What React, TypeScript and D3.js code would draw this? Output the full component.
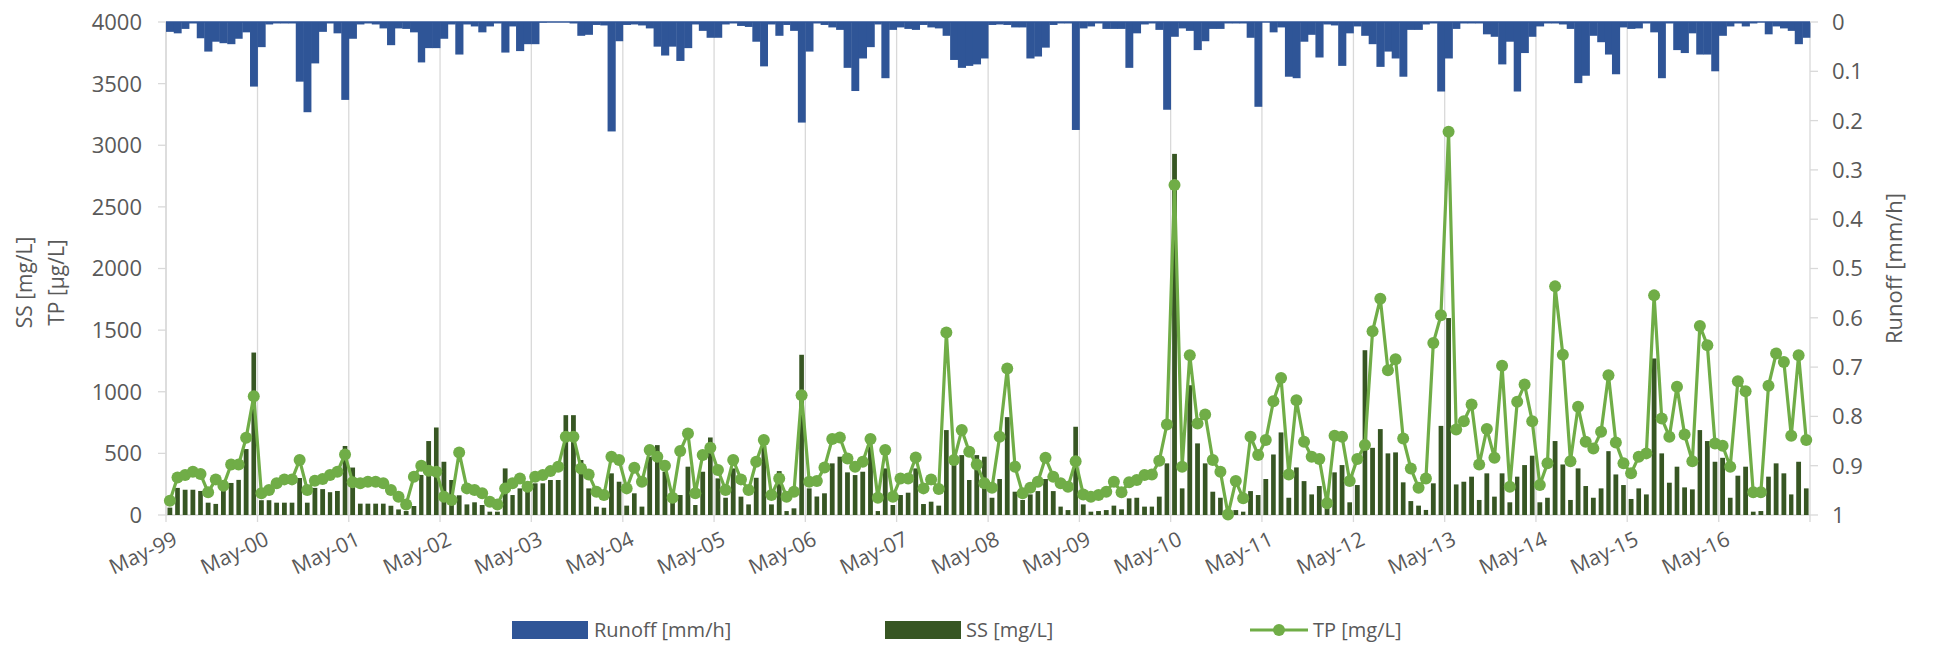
import React from "react";
import * as d3 from "d3";

// monthly samples, May-1999 .. Apr-2017
const startMonth = new Date(1999, 4, 1);
const endMonth = new Date(2017, 4, 1);
const months = d3.timeMonth.range(startMonth, endMonth);

// Runoff [mm/h], one value per month
const runoff = [
  0.02, 0.023, 0.014, 0.003, 0.033, 0.06, 0.04, 0.043, 0.045, 0.034, 0.021, 0.131,
  0.051, 0.005, 0.003, 0.003, 0.003, 0.121, 0.183, 0.084, 0.02, 0.003, 0.023, 0.158,
  0.034, 0.005, 0.003, 0.005, 0.013, 0.047, 0.013, 0.014, 0.021, 0.082, 0.053, 0.053,
  0.034, 0.005, 0.066, 0.005, 0.009, 0.021, 0.009, 0.003, 0.062, 0.009, 0.059, 0.045,
  0.045, 0.001, 0, 0, 0, 0.003, 0.028, 0.026, 0.006, 0.007, 0.222, 0.039,
  0.006, 0.005, 0.007, 0.013, 0.05, 0.068, 0.05, 0.079, 0.053, 0.005, 0.018, 0.032,
  0.032, 0.005, 0.003, 0.008, 0.01, 0.04, 0.09, 0.005, 0.028, 0.006, 0.018, 0.204,
  0.06, 0.003, 0.006, 0.011, 0.016, 0.093, 0.14, 0.074, 0.051, 0.005, 0.114, 0.016,
  0.011, 0.014, 0.016, 0.006, 0.011, 0.013, 0.028, 0.077, 0.093, 0.089, 0.086, 0.074,
  0.006, 0.005, 0.006, 0.011, 0.011, 0.074, 0.07, 0.052, 0.006, 0.003, 0.003, 0.219,
  0.013, 0.009, 0.003, 0.014, 0.014, 0.014, 0.093, 0.023, 0.005, 0.003, 0.016, 0.178,
  0.03, 0.013, 0.018, 0.057, 0.039, 0.014, 0.014, 0.003, 0.003, 0.003, 0.032, 0.172,
  0, 0.021, 0.011, 0.111, 0.114, 0.04, 0.026, 0.072, 0.005, 0.007, 0.089, 0.023,
  0.009, 0.028, 0.045, 0.091, 0.06, 0.074, 0.111, 0.016, 0.016, 0.005, 0.003, 0.141,
  0.074, 0.014, 0.003, 0.003, 0.003, 0.025, 0.03, 0.086, 0.04, 0.141, 0.063, 0.03,
  0.009, 0.003, 0.003, 0.005, 0.014, 0.124, 0.109, 0.028, 0.041, 0.066, 0.106, 0.011,
  0.014, 0.013, 0.003, 0.021, 0.114, 0.003, 0.057, 0.063, 0.023, 0.066, 0.066, 0.1,
  0.028, 0.009, 0.003, 0.009, 0.003, 0, 0.025, 0.009, 0.013, 0.018, 0.045, 0.032,
];

// SS [mg/L]
const ss = [
  60, 220, 205, 205, 195, 100, 90, 240, 260, 285, 535, 1318,
  120, 120, 100, 100, 100, 300, 100, 220, 210, 185, 195, 560,
  385, 92, 92, 92, 92, 75, 45, 32, 73, 325, 600, 710,
  432, 284, 160, 86, 103, 81, 27, 27, 378, 162, 216, 189,
  257, 257, 284, 284, 810, 810, 446, 216, 68, 59, 338, 270,
  76, 176, 68, 473, 567, 351, 108, 162, 392, 81, 351, 629,
  297, 140, 378, 149, 86, 302, 560, 86, 356, 32, 54, 1300,
  216, 150, 176, 419, 473, 346, 324, 351, 560, 32, 378, 81,
  162, 181, 378, 89, 108, 76, 689, 473, 486, 284, 486, 473,
  140, 292, 794, 189, 122, 167, 194, 292, 194, 68, 40, 716,
  86, 27, 32, 40, 76, 46, 135, 140, 68, 68, 149, 419,
  2930, 216, 1053, 581, 419, 189, 140, 27, 40, 27, 194, 162,
  292, 491, 670, 140, 386, 275, 167, 235, 140, 346, 405, 103,
  243, 1337, 545, 697, 500, 508, 265, 113, 76, 41, 257, 723,
  1598, 248, 270, 311, 122, 338, 149, 338, 103, 311, 405, 481,
  103, 140, 600, 410, 122, 378, 235, 140, 216, 518, 329, 243,
  130, 216, 167, 1270, 500, 262, 392, 224, 208, 689, 600, 432,
  464, 140, 319, 392, 27, 32, 311, 419, 338, 167, 432, 216,
];

// TP
const tp = [
  116, 305, 324, 351, 332, 184, 289, 238, 410, 410, 626, 964,
  176, 203, 257, 289, 289, 446, 203, 278, 292, 324, 351, 491,
  265, 257, 270, 270, 257, 203, 149, 86, 311, 400, 359, 351,
  149, 122, 508, 216, 203, 176, 108, 86, 216, 257, 297, 230,
  311, 324, 356, 392, 635, 635, 378, 329, 189, 162, 473, 446,
  216, 384, 270, 527, 473, 400, 140, 519, 662, 176, 486, 545,
  365, 203, 446, 289, 203, 432, 608, 162, 297, 149, 189, 972,
  270, 275, 386, 616, 629, 459, 392, 432, 616, 140, 527, 149,
  297, 297, 467, 216, 289, 211, 1480, 446, 689, 513, 410, 257,
  221, 635, 1188, 392, 176, 221, 270, 464, 311, 257, 230, 437,
  167, 149, 162, 189, 270, 184, 265, 284, 324, 329, 440, 734,
  2678, 392, 1296, 742, 815, 446, 351, 5, 275, 135, 635, 486,
  608, 923, 1112, 329, 931, 594, 473, 454, 95, 643, 635, 275,
  454, 567, 1490, 1755, 1175, 1264, 621, 378, 221, 297, 1396, 1620,
  3110, 694, 761, 896, 410, 697, 464, 1210, 230, 918, 1058, 761,
  243, 419, 1855, 1301, 437, 878, 594, 540, 675, 1134, 589, 419,
  338, 473, 500, 1782, 783, 635, 1040, 653, 437, 1534, 1377, 581,
  562, 392, 1085, 1004, 184, 184, 1048, 1310, 1242, 643, 1296, 608,
];

const yearTicks = d3.range(1999, 2017).map((y) => new Date(y, 4, 1));
const leftTicks = [0, 500, 1000, 1500, 2000, 2500, 3000, 3500, 4000];
const rightTicks = [0, 0.1, 0.2, 0.3, 0.4, 0.5, 0.6, 0.7, 0.8, 0.9, 1];

const W = 1933;
const H = 648;
const left = 166;
const right = 1810;
const top = 22;
const bottom = 515;

const BLUE = "#2F5597";
const DARK = "#375623";
const LIGHT = "#70AD47";
const GRID = "#D9D9D9";
const TEXT = "#595959";
const FONT = "'Open Sans', 'Noto Sans', sans-serif";

const App = () => {
  const x = d3.scaleTime().domain([startMonth, endMonth]).range([left, right]);
  const ySS = d3.scaleLinear().domain([0, 4000]).range([bottom, top]);
  const yRun = d3.scaleLinear().domain([0, 1]).range([top, bottom]);

  const bandOf = (m) => {
    const x0 = x(m);
    const x1 = x(d3.timeMonth.offset(m, 1));
    return { x0, x1, cx: (x0 + x1) / 2, w: x1 - x0 };
  };

  const tpPoints = months.map((m, i) => [bandOf(m).cx, ySS(tp[i])]);
  const line = d3.line();
  const fmt = d3.timeFormat("%b-%y");

  return (
    <svg
      width={W}
      height={H}
      style={{ position: "absolute", left: 0, top: 0, background: "#fff" }}
    >
      {/* vertical gridlines */}
      {yearTicks.map((d, i) => (
        <line key={"g" + i} x1={x(d)} x2={x(d)} y1={top} y2={bottom + 7} stroke={GRID} strokeWidth={1.3} />
      ))}
      {/* axes lines */}
      <line x1={left} x2={left} y1={top} y2={bottom} stroke={GRID} strokeWidth={1.3} />
      <line x1={right} x2={right} y1={top} y2={bottom + 7} stroke={GRID} strokeWidth={1.3} />
      <line x1={left} x2={right} y1={bottom} y2={bottom} stroke={GRID} strokeWidth={1.3} />

      {/* runoff bars hanging from top */}
      {months.map((m, i) => {
        const b = bandOf(m);
        return (
          <rect key={"r" + i} x={b.x0} width={b.w + 0.4} y={top} height={yRun(runoff[i]) - top} fill={BLUE} />
        );
      })}
      <line x1={left} x2={right} y1={top} y2={top} stroke={BLUE} strokeWidth={1.5} />

      {/* SS bars */}
      {months.map((m, i) => {
        const b = bandOf(m);
        const bw = b.w * 0.62;
        return (
          <rect key={"s" + i} x={b.cx - bw / 2} width={bw} y={ySS(ss[i])} height={bottom - ySS(ss[i])} fill={DARK} />
        );
      })}

      {/* TP line */}
      <path d={line(tpPoints)} fill="none" stroke={LIGHT} strokeWidth={3.2} strokeLinejoin="round" />
      {tpPoints.map((p, i) => (
        <circle key={"t" + i} cx={p[0]} cy={p[1]} r={6} fill={LIGHT} />
      ))}

      {/* left axis */}
      {leftTicks.map((t) => (
        <g key={"l" + t}>
          <line x1={left - 8} x2={left} y1={ySS(t)} y2={ySS(t)} stroke={GRID} strokeWidth={1.3} />
          <text x={142} y={ySS(t)} dy="0.36em" textAnchor="end" fontFamily={FONT} fontSize={22} fill={TEXT}>
            {t}
          </text>
        </g>
      ))}
      {/* right axis */}
      {rightTicks.map((t) => (
        <g key={"rt" + t}>
          <line x1={right} x2={right + 8} y1={yRun(t)} y2={yRun(t)} stroke={GRID} strokeWidth={1.3} />
          <text x={1832} y={yRun(t)} dy="0.36em" textAnchor="start" fontFamily={FONT} fontSize={22} fill={TEXT}>
            {t}
          </text>
        </g>
      ))}
      {/* x axis labels */}
      {yearTicks.map((d, i) => (
        <text
          key={"x" + i}
          transform={`translate(${x(d) + 6},${bottom + 15}) rotate(-25)`}
          textAnchor="end"
          dy="0.75em"
          fontFamily={FONT}
          fontSize={21}
          fill={TEXT}
        >
          {fmt(d)}
        </text>
      ))}

      {/* axis titles */}
      <text transform={`translate(32,${(top + bottom) / 2 + 14}) rotate(-90)`} textAnchor="middle" fontFamily={FONT} fontSize={21} fill={TEXT}>
        SS [mg/L]
      </text>
      <text transform={`translate(64,${(top + bottom) / 2 + 14}) rotate(-90)`} textAnchor="middle" fontFamily={FONT} fontSize={21} fill={TEXT}>
        TP [µg/L]
      </text>
      <text transform={`translate(1902,${(top + bottom) / 2}) rotate(-90)`} textAnchor="middle" fontFamily={FONT} fontSize={22} fill={TEXT}>
        Runoff [mm/h]
      </text>

      {/* legend */}
      <g fontFamily={FONT} fontSize={20} fill={TEXT}>
        <rect x={512} y={621} width={76} height={18} fill={BLUE} />
        <text x={594} y={630} dy="0.36em">Runoff [mm/h]</text>
        <rect x={885} y={621} width={76} height={18} fill={DARK} />
        <text x={966} y={630} dy="0.36em">SS [mg/L]</text>
        <line x1={1250} x2={1308} y1={630} y2={630} stroke={LIGHT} strokeWidth={3.2} />
        <circle cx={1279} cy={630} r={6} fill={LIGHT} />
        <text x={1313} y={630} dy="0.36em">TP [mg/L]</text>
      </g>
    </svg>
  );
};

export default App;
